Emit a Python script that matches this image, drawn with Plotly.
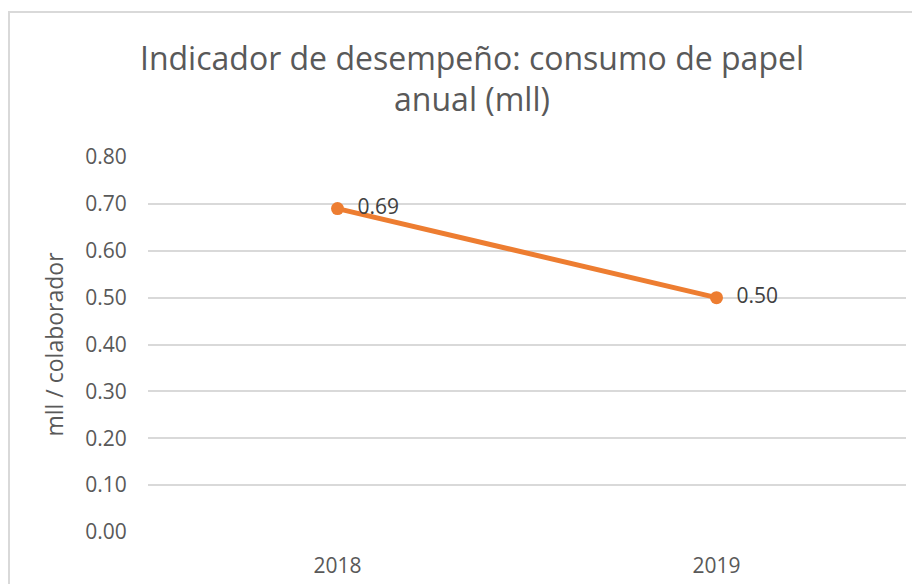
import plotly.graph_objects as go

years = ["2018", "2019"]
values = [0.69, 0.50]
labels = ["0.69", "0.50"]
y_ticks = [0.0, 0.1, 0.2, 0.3, 0.4, 0.5, 0.6, 0.7, 0.8]
title_text = "Indicador de desempeño: consumo de papel<br>anual (mll)"
y_title = "mll / colaborador"

# page body adds an 8px offset, so figure coords = image coords - 8
W, H = 912, 576
L, R, T, B = 140, 14, 149, 52
pw = W - L - R
ph = H - T - B

fig = go.Figure()
fig.add_trace(go.Scatter(
    x=years, y=values, mode="lines+markers+text",
    text=["  " + t for t in labels], textposition="middle right",
    textfont=dict(family="Open Sans", size=21, color="#404040"),
    line=dict(color="#ED7D31", width=5),
    marker=dict(color="#ED7D31", size=13),
    cliponaxis=False, showlegend=False, hoverinfo="skip",
))

bx0 = (1 - L) / pw
bx1 = (W + 40 - L) / pw
by0 = -(B + 40) / ph
by1 = (H - B - 4) / ph
border_path = f"M {bx1},{by1} L {bx0},{by1} L {bx0},{by0}"

fig.update_layout(
    width=W, height=H,
    margin=dict(l=L, r=R, t=T, b=B, autoexpand=False),
    paper_bgcolor="white", plot_bgcolor="white",
    title=dict(text=title_text, x=464 / W, xanchor="center", y=1 - 61.5 / H, yanchor="middle",
               font=dict(family="Open Sans", size=32, color="#595959")),
    xaxis=dict(type="category", range=[-0.5, 1.5], showgrid=False, zeroline=False,
               automargin=False,
               showline=False, ticks="outside", ticklen=15, tickcolor="rgba(0,0,0,0)",
               tickfont=dict(family="Open Sans", size=21, color="#595959")),
    yaxis=dict(range=[0, 0.8], tickvals=y_ticks, tickformat=".2f",
               automargin=False,
               showgrid=True, gridcolor="#D9D9D9", gridwidth=1.8,
               zeroline=False, showline=False, ticks="outside", ticklen=16,
               tickcolor="rgba(0,0,0,0)",
               tickfont=dict(family="Open Sans", size=21, color="#595959"),
               title=dict(text=y_title, standoff=15,
                          font=dict(family="Open Sans", size=23, color="#595959"))),
    shapes=[dict(type="path", xref="paper", yref="paper", path=border_path,
                 line=dict(color="#D9D9D9", width=2), layer="below")],
)

fig.write_html("out.html")
